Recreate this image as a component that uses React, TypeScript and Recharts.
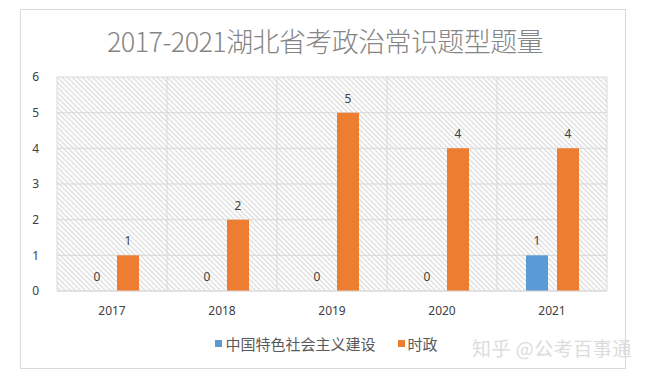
import { Bar, BarChart, CartesianGrid, LabelList, Legend, XAxis, YAxis } from "recharts";

// values
const years = ["2017", "2018", "2019", "2020", "2021"];
const socialism = [0, 0, 0, 0, 1];
const currentAffairs = [1, 2, 5, 4, 4];
const yTicks = [0, 1, 2, 3, 4, 5, 6];

const data = years.map((year, i) => ({
  year,
  socialism: socialism[i],
  current: currentAffairs[i],
}));

const font = "'Noto Sans', 'Noto Sans CJK SC', sans-serif";

const renderLegend = (props: any) => (
  <div
    style={{
      display: "flex",
      justifyContent: "center",
      gap: 22,
      paddingLeft: 46,
      fontFamily: font,
      fontSize: 15,
      color: "#595959",
    }}
  >
    {props.payload.map((p: any) => (
      <span key={p.value} style={{ display: "flex", alignItems: "center" }}>
        <span style={{ width: 7, height: 7, background: p.color, marginRight: 3, display: "inline-block" }} />
        {p.value}
      </span>
    ))}
  </div>
);

export default function App() {
  return (
    <div style={{ position: "absolute", left: 0, top: 0, width: 650, height: 381, background: "#fff" }}>
      <div
        style={{
          position: "absolute",
          left: 20,
          top: 9,
          width: 604,
          height: 358,
          border: "1px solid #d9d9d9",
        }}
      />
      <div
        style={{
          position: "absolute",
          left: 0,
          top: 21,
          width: 650,
          textAlign: "center",
          fontFamily: "'Noto Sans CJK SC', sans-serif",
          fontSize: 27,
          fontWeight: 300,
          color: "#858585",
          letterSpacing: -0.6,
        }}
      >
        2017-2021湖北省考政治常识题型题量
      </div>
      <div style={{ position: "absolute", left: 0, top: 0 }}>
        <BarChart
          width={650}
          height={381}
          data={data}
          margin={{ top: 77, right: 43, bottom: 39, left: 0 }}
          barGap={9}
          barSize={22}
        >
          <defs>
            <pattern id="hatch" width="5" height="5" patternUnits="userSpaceOnUse">
              <rect width="5" height="5" fill="#fcfcfc" />
              <path d="M-1,-1 L6,6 M-1,4 L1,6 M4,-1 L6,1" stroke="#dcdcdc" strokeWidth="1.2" />
            </pattern>
          </defs>
          <CartesianGrid
            stroke="#d9d9d9"
            fill="url(#hatch)"
            fillOpacity={1}
            verticalCoordinatesGenerator={({ offset }: any) =>
              years.map((_, i) => offset.left + (i * offset.width) / years.length).concat(offset.left + offset.width)
            }
          />
          <XAxis
            dataKey="year"
            height={30}
            axisLine={{ stroke: "#d9d9d9" }}
            tickLine={false}
            tick={{ fill: "#404040", fontSize: 12, fontFamily: font }}
            tickMargin={9}
          />
          <YAxis
            domain={[0, 6]}
            ticks={yTicks}
            axisLine={false}
            tickLine={false}
            tick={{ fill: "#404040", fontSize: 12, fontFamily: font }}
            width={57}
            tickMargin={12}
          />
          <Legend verticalAlign="bottom" wrapperStyle={{ bottom: 27 }} content={renderLegend} />
          <Bar dataKey="socialism" name="中国特色社会主义建设" fill="#5b9bd5" minPointSize={0.01} isAnimationActive={false}>
            <LabelList dataKey="socialism" position="top" offset={10} fill="#404040" fontSize={12} fontFamily={font} />
          </Bar>
          <Bar dataKey="current" name="时政" fill="#ed7d31" isAnimationActive={false}>
            <LabelList dataKey="current" position="top" offset={10} fill="#404040" fontSize={12} fontFamily={font} />
          </Bar>
        </BarChart>
      </div>
      <div
        style={{
          position: "absolute",
          left: 472,
          top: 334,
          fontFamily: "'Noto Sans CJK SC', sans-serif",
          fontSize: 19,
          letterSpacing: 0.5,
          color: "#dcdcdc",
        }}
      >
        知乎 @公考百事通
      </div>
    </div>
  );
}
